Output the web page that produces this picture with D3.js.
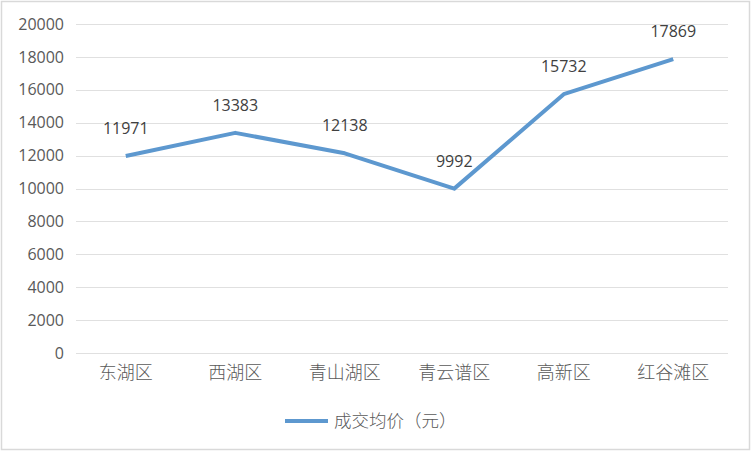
<!DOCTYPE html>
<html><head><meta charset="utf-8">
<script src="https://cdn.jsdelivr.net/npm/d3@7"></script>
<style>body{margin:0;background:#fff}svg{display:block}</style>
</head><body>
<svg id="c" width="752" height="452"></svg>
<script>
const categories = ["东湖区","西湖区","青山湖区","青云谱区","高新区","红谷滩区"];
const values = [11971,13383,12138,9992,15732,17869];
const yTicks = [0,2000,4000,6000,8000,10000,12000,14000,16000,18000,20000];
const seriesName = "成交均价（元）";

const svg = d3.select("#c");
svg.append("rect").attr("x",1.5).attr("y",1.5).attr("width",748).attr("height",448)
  .attr("fill","#fff").attr("stroke","#d9d9d9").attr("stroke-width",1.5);

const x = d3.scaleBand().domain(categories).range([71,728]);
const y = d3.scaleLinear().domain([0,20000]).range([353,24]);
const font = "'Noto Sans CJK SC','Noto Sans',sans-serif";

// gridlines
svg.append("g").selectAll("line").data(yTicks).join("line")
  .attr("x1",76).attr("x2",728)
  .attr("y1",d=>Math.round(y(d))+0.5).attr("y2",d=>Math.round(y(d))+0.5)
  .attr("stroke","#e0e0e0").attr("stroke-width",1.2);

// y axis
const yAxis = d3.axisLeft(y).tickValues(yTicks).tickSize(0).tickPadding(0).tickFormat(d3.format("d"));
const ya = svg.append("g").attr("transform","translate(64,0)").call(yAxis);
ya.select(".domain").remove();
ya.selectAll("text").attr("font-family","'Open Sans','Noto Sans',sans-serif").attr("font-size",16).attr("fill","#595959");

// x axis
const xAxis = d3.axisBottom(x).tickSize(0).tickPadding(0);
const xa = svg.append("g").attr("transform","translate(0,366)").call(xAxis);
xa.select(".domain").remove();
xa.selectAll("text").attr("font-family",font).attr("font-weight",300).attr("font-size",18).attr("fill","#595959");

// line
const line = d3.line().x((d,i)=>x(categories[i])+x.bandwidth()/2).y(d=>y(d));
svg.append("path").datum(values).attr("d",line).attr("fill","none")
  .attr("stroke","#5d98cf").attr("stroke-width",4).attr("stroke-linejoin","round");

// data labels
svg.append("g").selectAll("text").data(values).join("text")
  .attr("x",(d,i)=>x(categories[i])+x.bandwidth()/2)
  .attr("y",d=>y(d)-22)
  .attr("text-anchor","middle")
  .attr("font-family","'Open Sans','Noto Sans',sans-serif").attr("font-size",16).attr("fill","#404040")
  .text(d=>d);

// legend
const lg = svg.append("g");
lg.append("line").attr("x1",285).attr("x2",328).attr("y1",421).attr("y2",421)
  .attr("stroke","#5d98cf").attr("stroke-width",4);
lg.append("text").attr("x",334).attr("y",427).attr("font-family",font).attr("font-weight",300)
  .attr("font-size",17.5).attr("fill","#595959").text(seriesName);
</script>
</body></html>
